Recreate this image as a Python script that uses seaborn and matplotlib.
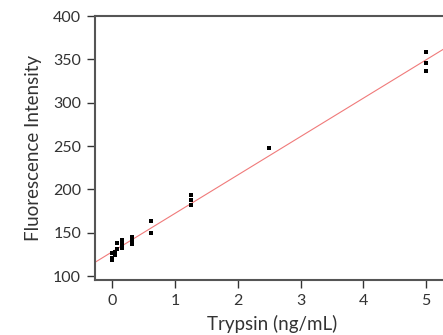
import numpy as np
import pandas as pd
import matplotlib
matplotlib.use('Agg')
import matplotlib.pyplot as plt
import seaborn as sns

#%% Data

trypsin = [0, 0, 0,
           0.039, 0.039,
           0.078, 0.078,
           0.156, 0.156, 0.156,
           0.3125, 0.3125, 0.3125,
           0.625, 0.625,
           1.25, 1.25, 1.25,
           2.5,
           5, 5, 5]
fluorescence = [118, 121, 126,
                124, 128,
                131, 138,
                132, 137, 141,
                137, 141, 145,
                150, 164,
                182, 188, 194,
                248,
                336, 346, 358]
x_ticks = [0, 1, 2, 3, 4, 5]
y_ticks = [100, 150, 200, 250, 300, 350, 400]

df = pd.DataFrame({'Trypsin': trypsin, 'Fluorescence': fluorescence})

#%% Plot

sns.set_style('ticks')
plt.rcParams['font.family'] = ['Lato', 'DejaVu Sans']

fig = plt.figure(figsize=(4.43, 3.35), dpi=100)
ax = fig.add_axes([95 / 443, 55 / 335, 355 / 443, 264 / 335])
ax.set_xlim(-0.275, 5.38)
ax.set_ylim(95.4, 400)

sns.regplot(data=df, x='Trypsin', y='Fluorescence', ax=ax, ci=None, truncate=False,
            marker='s',
            scatter_kws={'s': 12, 'color': 'black', 'linewidths': 0, 'alpha': 1, 'zorder': 3},
            line_kws={'color': '#f07a7a', 'linewidth': 0.8, 'zorder': 2})

ax.set_xticks(x_ticks)
ax.set_yticks(y_ticks)
ax.set_xlabel('Trypsin (ng/mL)', fontsize=13.5, color='#333333', labelpad=5)
ax.set_ylabel('Fluorescence Intensity', fontsize=13.5, color='#333333', labelpad=8)
ax.tick_params(axis='both', labelsize=11.5, colors='#333333', length=6, width=1,
               direction='out', pad=4)

for side in ['left', 'bottom', 'top']:
    ax.spines[side].set_color('#555555')
    ax.spines[side].set_linewidth(1.5)
ax.spines['right'].set_visible(False)

fig.savefig('out.png', dpi=100)
